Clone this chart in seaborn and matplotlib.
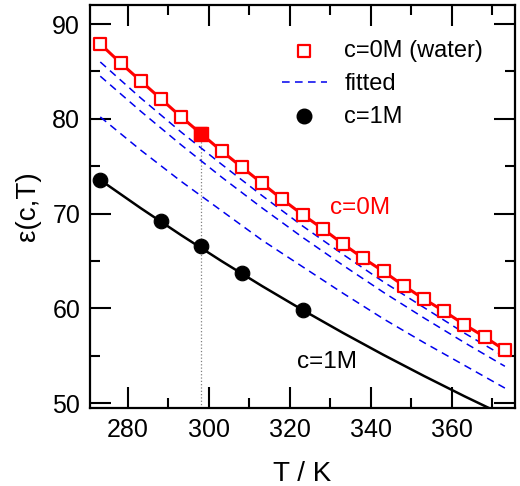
import numpy as np
import pandas as pd
import matplotlib
matplotlib.use("Agg")
import matplotlib.pyplot as plt
from matplotlib.ticker import MultipleLocator
import seaborn as sns

# water (c=0M) data, 273.15 K .. 373.15 K every 5 K
T_water = [273.15, 278.15, 283.15, 288.15, 293.15, 298.15, 303.15, 308.15, 313.15,
           318.15, 323.15, 328.15, 333.15, 338.15, 343.15, 348.15, 353.15, 358.15,
           363.15, 368.15, 373.15]
eps_water = [87.9, 85.9, 84.0, 82.1, 80.2, 78.4, 76.6, 74.9, 73.2, 71.5, 69.9,
             68.4, 66.8, 65.3, 63.9, 62.4, 61.0, 59.7, 58.3, 57.0, 55.6]

# c=1M points
T_1M = [273.15, 288.15, 298.15, 308.15, 323.15]
eps_1M = [73.55, 69.26, 66.59, 63.71, 59.84]

# c=1M curve
T_1M_line = [273.15, 283.15, 293.15, 303.15, 313.15, 323.15, 333.15, 343.15,
             353.15, 363.15, 373.15, 376.15]
eps_1M_line = [73.55, 70.58, 67.73, 64.99, 62.36, 59.84, 57.42, 55.10,
               52.88, 50.74, 48.69, 48.09]

# fitted curves (blue dashed)
T_fit = [273.15, 283.15, 293.15, 303.15, 313.15, 323.15, 333.15, 343.15,
         353.15, 363.15, 373.15]
eps_fit1 = [86.0, 82.2, 78.6, 75.2, 71.9, 68.7, 65.7, 62.8, 60.1, 57.4, 54.9]
eps_fit2 = [84.5, 80.8, 77.25, 73.85, 70.6, 67.5, 64.55, 61.7, 59.0, 56.4, 53.9]
eps_fit3 = [80.2, 76.7, 73.4, 70.3, 67.2, 64.4, 61.6, 58.9, 56.4, 54.0, 51.6]

T_ref = 298.15
eps_ref = 78.4

sns.set_style("ticks")
plt.rcParams['font.family'] = ['Liberation Sans', 'DejaVu Sans']
plt.rcParams['xtick.direction'] = 'in'
plt.rcParams['ytick.direction'] = 'in'
for k in ['text.color', 'axes.labelcolor', 'xtick.color', 'ytick.color', 'axes.edgecolor']:
    plt.rcParams[k] = 'black'

fig = plt.figure(figsize=(5.2, 4.86), dpi=100)
ax = fig.add_axes([0.173, 0.1605, 0.817, 0.829])

# dotted vertical line at 298 K
ax.plot([T_ref, T_ref], [49.5, eps_ref], color='gray', linestyle=':', linewidth=0.9, zorder=1)

# fitted curves
for eps_fit in [eps_fit1, eps_fit2, eps_fit3]:
    sns.lineplot(x=T_fit, y=eps_fit, ax=ax, color='#0000ee', linewidth=1.1,
                 dashes=False, linestyle=(0, (5, 3.5)), zorder=2)

# lines
sns.lineplot(x=T_water, y=eps_water, ax=ax, color='red', linewidth=2.2, zorder=3)
sns.lineplot(x=T_1M_line, y=eps_1M_line, ax=ax, color='black', linewidth=1.8, zorder=3)

# markers
sns.scatterplot(x=T_water, y=eps_water, ax=ax, marker='s', s=70, facecolor='white',
                edgecolor='red', linewidth=1.6, zorder=4)
ax.plot([T_ref], [eps_ref], marker='s', markersize=9.5, color='red', linestyle='', zorder=5)
sns.scatterplot(x=T_1M, y=eps_1M, ax=ax, marker='o', s=110, color='black',
                edgecolor='black', zorder=4)

# legend handles
h1 = ax.scatter([], [], marker='s', s=70, facecolor='white', edgecolor='red',
                linewidth=1.6, label='c=0M (water)')
h2, = ax.plot([], [], color='#0000ee', linewidth=1.1, linestyle=(0, (5, 3.5)), label='fitted')
h3 = ax.scatter([], [], marker='o', s=110, color='black', label='c=1M')
leg = ax.legend(handles=[h1, h2, h3], loc='upper left', bbox_to_anchor=(0.435, 0.93),
                frameon=True, fontsize=17, handlelength=1.9, handletextpad=0.75,
                labelspacing=0.45, borderpad=0.3, borderaxespad=0)
leg.get_frame().set_edgecolor('none')
leg.get_frame().set_facecolor('white')
leg.get_frame().set_alpha(1)

ax.text(330, 70.6, 'c=0M', color='red', fontsize=17.5, va='center', ha='left')
ax.text(321.8, 54.4, 'c=1M', color='black', fontsize=17.5, va='center', ha='left')

ax.set_xlim(270.6, 375.6)
ax.set_ylim(49.5, 92)
ax.xaxis.set_major_locator(MultipleLocator(20))
ax.xaxis.set_minor_locator(MultipleLocator(10))
ax.yaxis.set_major_locator(MultipleLocator(10))
ax.yaxis.set_minor_locator(MultipleLocator(5))
ax.tick_params(which='both', top=True, right=True, width=1.5, labelsize=18)
ax.tick_params(which='major', length=15, pad=7)
ax.tick_params(which='minor', length=7.5)
for sp in ax.spines.values():
    sp.set_linewidth(1.6)

ax.set_xlabel('T / K', fontsize=20, labelpad=14)
ax.set_ylabel('ε(c,T)', fontsize=20, labelpad=8)

fig.savefig('out.png', dpi=100)
